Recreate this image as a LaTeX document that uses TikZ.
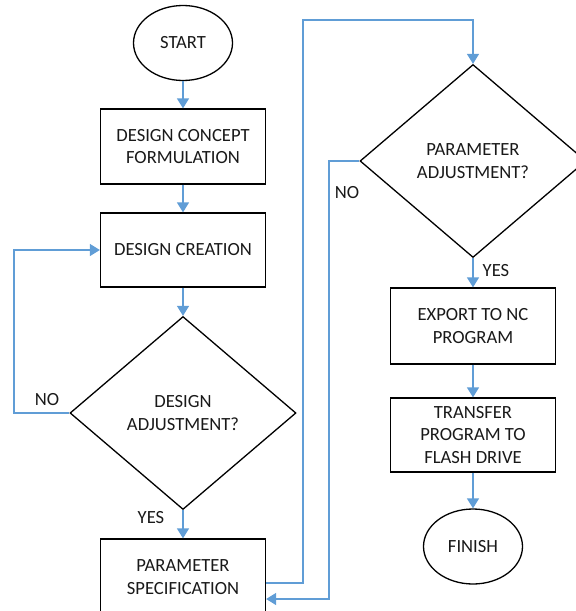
\documentclass[tikz,border=0pt]{standalone}
\usepackage{fontspec}
\setmainfont{Carlito}
\usetikzlibrary{arrows.meta,shapes.geometric}
\definecolor{arrc}{RGB}{96,157,214}
\definecolor{txt}{RGB}{25,25,25}
\begin{document}
\begin{tikzpicture}[x=1pt,y=-1pt,
  every node/.style={text=txt, font=\fontsize{18.6}{22.5}\selectfont},
  box/.style={draw=black, line width=1.3pt, minimum width=165pt, align=center, inner sep=0pt},
  term/.style={draw=black, line width=1.3pt, ellipse, minimum width=99pt, minimum height=75pt, inner sep=0pt},
  dec/.style={draw=black, line width=1.3pt, diamond, minimum width=226pt, minimum height=193pt, inner sep=0pt, align=center},
  lbl/.style={inner sep=0pt},
  flow/.style={draw=arrc, line width=1.4pt, -{Triangle[width=12pt,length=10pt]}},
  flowline/.style={draw=arrc, line width=1.4pt}]
\useasboundingbox (0,0) rectangle (576,611);
\clip (0,0) rectangle (576,611);
\node[term] (start) at (183,43) {START};
\node[box, minimum height=75pt] (dcf) at (183,146.5) {DESIGN CONCEPT\\FORMULATION};
\node[box, minimum height=74pt] (dc) at (183,250) {DESIGN CREATION};
\node[dec] (da) at (183,413) {DESIGN\\ADJUSTMENT?};
\node[box, minimum height=76pt] (ps) at (183,577) {PARAMETER\\SPECIFICATION};
\node[dec] (pa) at (473,161) {PARAMETER\\ADJUSTMENT?};
\node[box, minimum height=76pt] (ex) at (473,326) {EXPORT TO NC\\PROGRAM};
\node[box, minimum height=74pt] (tr) at (473,435) {TRANSFER\\PROGRAM TO\\FLASH DRIVE};
\node[term] (fin) at (473,546.5) {FINISH};
\node[lbl] (no1) at (47,400) {NO};
\node[lbl] (yes1) at (151,518) {YES};
\node[lbl] (no2) at (347,193) {NO};
\node[lbl] (yes2) at (496,271) {YES};
\coordinate (l1) at (14,250);
\coordinate (c1) at (303,583);
\coordinate (c2) at (303,20);
\coordinate (c3) at (329,599);
\draw[flow] (start) -- (dcf);
\draw[flow] (dcf) -- (dc);
\draw[flow] (dc) -- (da);
\draw[flow] (da) -- (ps);
\draw[flow] (da.west) -| (l1) -- (dc.west);
\draw[flow] (ps.east |- c1) -- (c1) -- (c2) -| (pa.north);
\draw[flow] (pa.west) -| (c3) -- (ps.east |- c3);
\draw[flow] (pa) -- (ex);
\draw[flow] (ex) -- (tr);
\draw[flow] (tr) -- (fin);
\end{tikzpicture}
\end{document}
